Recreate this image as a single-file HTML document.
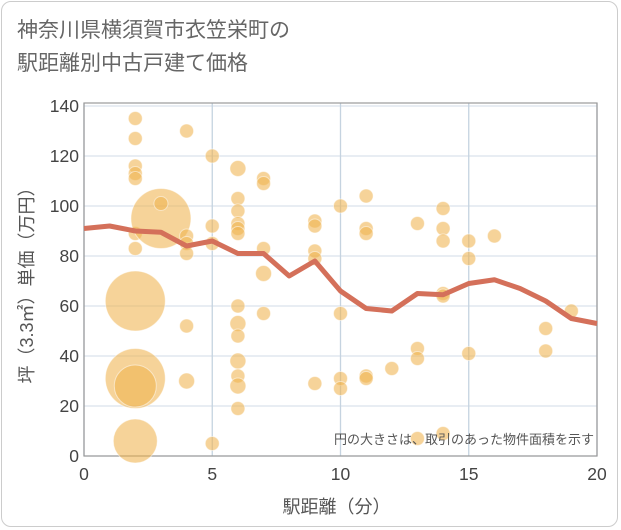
<!DOCTYPE html>
<html><head><meta charset="utf-8"><style>
body{margin:0;background:#fff;}
#wrap{position:relative;width:621px;height:530px;overflow:hidden;background:#fff;}
#card{position:absolute;left:1px;top:1px;width:617px;height:526px;border:1px solid #ccc;border-radius:10px;box-sizing:border-box;}
.t{font-family:"Liberation Sans","Noto Sans CJK JP",sans-serif;}
</style></head><body>
<div id="wrap">
<div id="card"></div>
<div class="t" style="position:absolute;left:17px;top:14px;font-size:21px;line-height:33px;color:#666;">神奈川県横須賀市衣笠栄町の<br>駅距離別中古戸建て価格</div>
<svg id="chart" width="621" height="530" style="position:absolute;left:0;top:0"></svg>
</div>
<script>
const xTicks=[0,5,10,15,20];
const yTicks=[0,20,40,60,80,100,120,140];
const ptX=[2,2,2,2,2,2,2,2,2,2,2,3,3,4,4,4,4,4,4,5,5,5,5,6,6,6,6,6,6,6,6,6,6,6,6,6,7,7,7,7,7,9,9,9,9,9,10,10,10,10,11,11,11,11,11,12,13,13,13,13,14,14,14,14,14,14,15,15,15,16,18,18,19];
const ptY=[135,127,116,113,111,89,83,62,31,28,6,95,101,130,88,85,81,52,30,120,92,85,5,115,103,98,93,91,89,60,53,48,38,32,28,19,111,109,83,73,57,94,92,82,79,29,100,57,31,27,104,91,89,32,31,35,93,43,39,7,99,91,86,65,64,9,86,79,41,88,51,42,58];
const ptR=[7,7,7,7,7,7,7,30,30,21,22,30,7,7,7,7,7,7,8,7,7,7,7,8,7,7,7,7,7,7,8,7,8,7,8,7,7,7,7,8,7,7,7,7,7,7,7,7,7,7,7,7,7,7,7,7,7,7,7,7,7,7,7,7,7,7,7,7,7,7,7,7,7];
const lineX=[0,1,2,3,4,5,6,7,8,9,10,11,12,13,14,15,16,17,18,19,20];
const lineY=[91,92,90,89.5,84,86,81,81,72,78,66,59,58,65,64.5,69,70.5,67,62,55,53];
const NS='http://www.w3.org/2000/svg';
const svg=document.getElementById('chart');
const L=84,R=597,T=106,B=456;
const sx=v=>L+(v/20)*(R-L);
const sy=v=>B-(v/140)*(B-T);
function mk(tag,attrs,parent){const e=document.createElementNS(NS,tag);for(const k in attrs)e.setAttribute(k,attrs[k]);(parent||svg).appendChild(e);return e;}
const grid=mk('g',{});


yTicks.forEach(v=>{const l=mk('line',{x1:L,x2:R,y1:sy(v),y2:sy(v),stroke:'#dae2ec','stroke-width':1.3},grid);


const t=mk('text',{x:L-5,y:sy(v)+6,'text-anchor':'end','font-size':17.5,fill:'#444','font-family':'Liberation Sans, sans-serif'});t.textContent=v;

});
xTicks.forEach(v=>{const l=mk('line',{x1:sx(v),x2:sx(v),y1:T-3,y2:B,stroke:'#c5d3e0','stroke-width':1.3},grid);


const t=mk('text',{x:sx(v),y:B+24,'text-anchor':'middle','font-size':17.5,fill:'#444','font-family':'Liberation Sans, sans-serif'});t.textContent=v;

});
const fr=mk('rect',{x:L,y:T-3,width:R-L,height:B-T+3,fill:'none',stroke:'#999','stroke-width':1.2});


ptX.forEach((x,i)=>{const c=mk('circle',{cx:sx(x),cy:sy(ptY[i]),r:ptR[i],fill:'#f0b450','fill-opacity':0.58,stroke:'#fff','stroke-opacity':0.5,'stroke-width':1});

});
const p=mk('polyline',{points:lineX.map((x,i)=>sx(x)+','+sy(lineY[i])).join(' '),fill:'none',stroke:'#d4705a','stroke-width':5,'stroke-linejoin':'round'});


const note=mk('text',{x:594,y:444,'text-anchor':'end','font-size':13,fill:'#555','font-family':'Liberation Sans, Noto Sans CJK JP, sans-serif'});note.textContent='円の大きさは、取引のあった物件面積を示す';


const xt=mk('text',{x:(L+R)/2-4,y:513,'text-anchor':'middle','font-size':18,fill:'#555','font-family':'Liberation Sans, Noto Sans CJK JP, sans-serif'});xt.textContent='駅距離（分）';


const yt=mk('text',{x:0,y:0,'text-anchor':'middle','font-size':18,fill:'#555','font-family':'Liberation Sans, Noto Sans CJK JP, sans-serif',transform:'translate(33,'+((T+B)/2)+') rotate(-90)'});yt.textContent='坪（3.3㎡）単価（万円）';


</script>
</body></html>
